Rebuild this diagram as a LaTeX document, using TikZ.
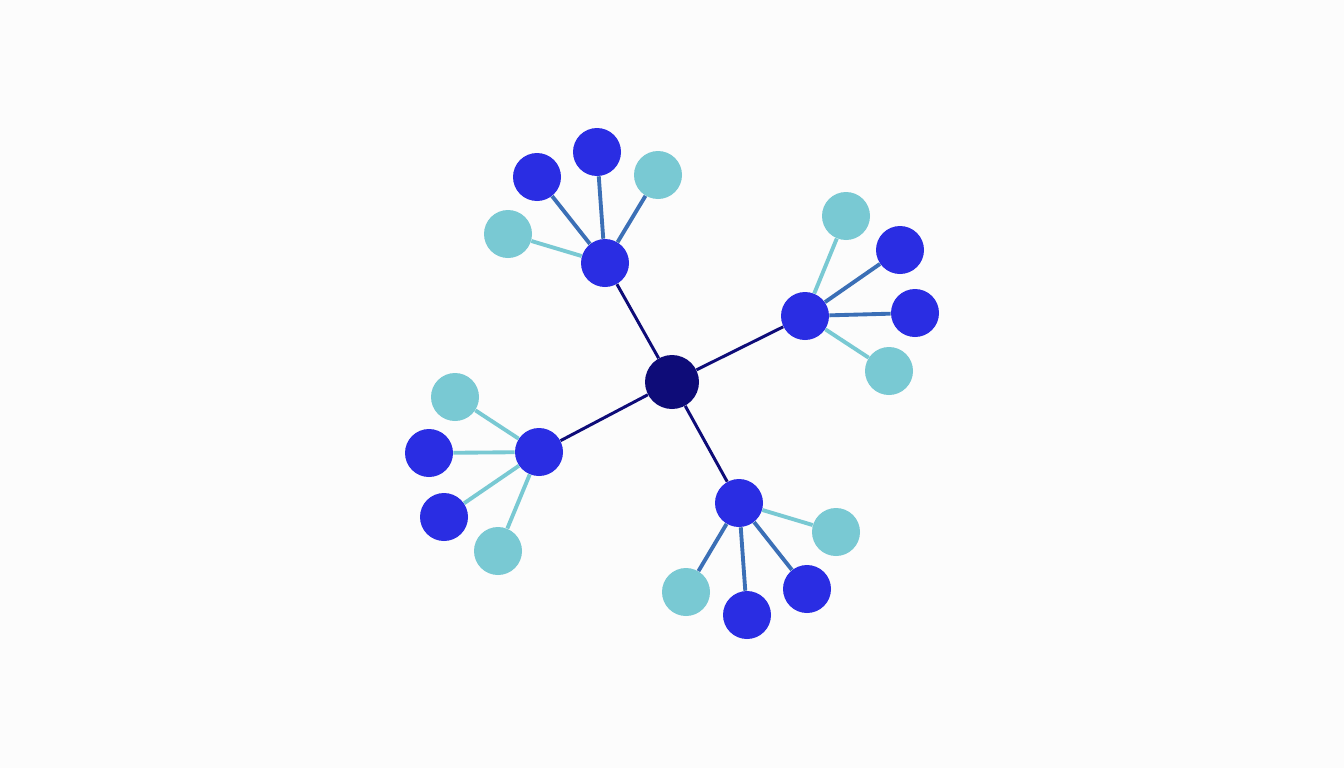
\documentclass[tikz,border=0pt]{standalone}
\usepackage{xcolor}
\usepackage{tikz}

\definecolor{hubblue}{HTML}{2A2DE3}
\definecolor{leafteal}{HTML}{79C9D3}
\definecolor{rootnavy}{HTML}{0E0C78}
\definecolor{linksteel}{HTML}{3B6FB6}
\definecolor{paper}{HTML}{FCFCFC}

\begin{document}
\begin{tikzpicture}[x=0.02cm, y=-0.02cm,
        root/.style={circle, fill=rootnavy, minimum size=1.08cm, inner sep=0pt},
        hub/.style={circle, fill=hubblue, minimum size=0.96cm, inner sep=0pt},
        bleaf/.style={circle, fill=hubblue, minimum size=0.96cm, inner sep=0pt},
        tleaf/.style={circle, fill=leafteal, minimum size=0.96cm, inner sep=0pt},
        trunk/.style={rootnavy, line width=1.7pt},
        twig/.style={linksteel, line width=2.2pt},
        tealtwig/.style={leafteal, line width=2.2pt}]

        \fill[paper] (0,0) rectangle (1344,768);
        \useasboundingbox (0,0) rectangle (1344,768);

        % centre and hubs
        \node[root] (c) at (672,382) {};
        \node[hub] (ht) at (605,263) {};
        \node[hub] (hr) at (805,316) {};
        \node[hub] (hl) at (539,452) {};
        \node[hub] (hb) at (739,503) {};

        % top leaves
        \node[tleaf] (t1) at (508,234) {};
        \node[bleaf] (t2) at (537,177) {};
        \node[bleaf] (t3) at (597,152) {};
        \node[tleaf] (t4) at (658,175) {};

        % right leaves
        \node[tleaf] (r1) at (846,216) {};
        \node[bleaf] (r2) at (900,250) {};
        \node[bleaf] (r3) at (915,313) {};
        \node[tleaf] (r4) at (889,371) {};

        % left leaves
        \node[tleaf] (l1) at (455,397) {};
        \node[bleaf] (l2) at (429,453) {};
        \node[bleaf] (l3) at (444,517) {};
        \node[tleaf] (l4) at (498,551) {};

        % bottom leaves
        \node[tleaf] (b1) at (836,532) {};
        \node[bleaf] (b2) at (807,589) {};
        \node[bleaf] (b3) at (747,615) {};
        \node[tleaf] (b4) at (686,592) {};

        \draw[trunk] (c) -- (ht);
        \draw[trunk] (c) -- (hr);
        \draw[trunk] (c) -- (hl);
        \draw[trunk] (c) -- (hb);

        \draw[tealtwig] (ht) -- (t1);
        \draw[twig] (ht) -- (t2);
        \draw[twig] (ht) -- (t3);
        \draw[twig] (ht) -- (t4);

        \draw[tealtwig] (hr) -- (r1);
        \draw[twig] (hr) -- (r2);
        \draw[twig] (hr) -- (r3);
        \draw[tealtwig] (hr) -- (r4);

        \draw[tealtwig] (hl) -- (l1);
        \draw[tealtwig] (hl) -- (l2);
        \draw[tealtwig] (hl) -- (l3);
        \draw[tealtwig] (hl) -- (l4);

        \draw[tealtwig] (hb) -- (b1);
        \draw[twig] (hb) -- (b2);
        \draw[twig] (hb) -- (b3);
        \draw[twig] (hb) -- (b4);
    \end{tikzpicture}
\end{document}
